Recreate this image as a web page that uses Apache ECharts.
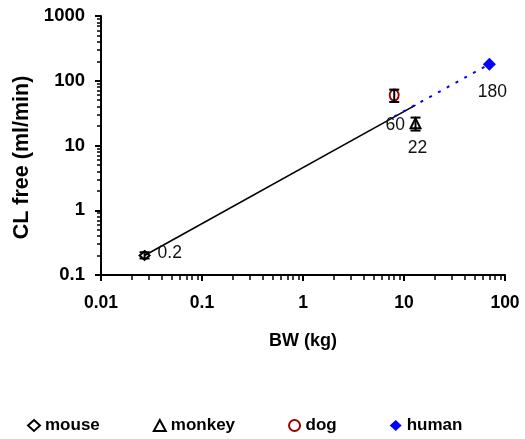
<!DOCTYPE html>
<html>
<head>
<meta charset="utf-8">
<script src="https://cdn.jsdelivr.net/npm/echarts@6/dist/echarts.min.js"></script>
<style>
  html, body { margin: 0; padding: 0; background: #fff; }
  #chart { width: 525px; height: 439px; }
</style>
</head>
<body>
<div id="chart"></div>
<script>
// Body weight (kg) vs. free clearance (ml/min) per species
const species = ['mouse', 'monkey', 'dog', 'human'];
const bodyWeight = [0.027, 13, 8, 70];
const clearance = [0.2, 22, 60, 180];
const errLow = [0.18, 17, 47, null];
const errHigh = [0.225, 27, 73, null];

// Allometric fit (solid) and its extrapolation to human (dotted)
const fitLine = [[0.027, 0.2], [13, 42]];
const extrapLine = [[8, 28], [70, 180]];

// Axis tick values
const xMinor = [0.02,0.03,0.04,0.05,0.06,0.07,0.08,0.09,0.2,0.3,0.4,0.5,0.6,0.7,0.8,0.9,2,3,4,5,6,7,8,9,20,30,40,50,60,70,80,90];
const yMinor = [0.2,0.3,0.4,0.5,0.6,0.7,0.8,0.9,2,3,4,5,6,7,8,9,20,30,40,50,60,70,80,90,200,300,400,500,600,700,800,900];

const FONT = 'Liberation Sans, Arial, sans-serif';

const styles = {
  mouse:  { symbol: 'diamond',  size: [10, 9],  fill: 'none', stroke: '#000000', w: 2 },
  monkey: { symbol: 'triangle', size: [10, 10], fill: 'none', stroke: '#000000', w: 2 },
  dog:    { symbol: 'circle',   size: [9, 11],  fill: 'none', stroke: '#990000', w: 2 },
  human:  { symbol: 'diamond',  size: [13, 13], fill: '#0000ff', stroke: '#0000ff', w: 0 }
};
const labelPlace = {
  mouse:  { position: 'right',  distance: 7, offset: [0, -2] },
  monkey: { position: 'bottom', distance: 10, offset: [2, 0] },
  dog:    { position: 'bottom', distance: 14, offset: [1, 0] },
  human:  { position: 'bottom', distance: 12, offset: [3, 0] }
};

const scatterSeries = species.map((name, i) => {
  const s = styles[name];
  const lp = labelPlace[name];
  return {
    name: name,
    type: 'scatter',
    xAxisIndex: 0, yAxisIndex: 0,
    symbol: s.symbol,
    symbolSize: s.size,
    itemStyle: { color: s.fill === 'none' ? 'rgba(255,255,255,0)' : s.fill, borderColor: s.stroke, borderWidth: s.w, opacity: 1 },
    z: 4,
    label: {
      show: true,
      position: lp.position,
      distance: lp.distance,
      offset: lp.offset,
      formatter: (p) => String(p.value[1]),
      fontFamily: FONT, fontSize: 17.5, color: '#111'
    },
    data: [[bodyWeight[i], clearance[i]]]
  };
});

const errData = [];
species.forEach((name, i) => {
  if (errLow[i] != null) errData.push([bodyWeight[i], errLow[i], errHigh[i]]);
});

const option = {
  animation: false,
  backgroundColor: '#ffffff',
  grid: { left: 101, right: 20, top: 16, bottom: 164, containLabel: false },
  legend: {
    data: species.map(n => ({
      name: n,
      icon: styles[n].symbol,
      itemStyle: { color: styles[n].fill === 'none' ? 'rgba(255,255,255,0)' : styles[n].fill, borderColor: styles[n].stroke, borderWidth: styles[n].w }
    })),
    left: 27, top: 417, padding: 0,
    itemWidth: 12, itemHeight: 11, itemGap: 53,
    selectedMode: false,
    textStyle: { fontFamily: FONT, fontSize: 17, fontWeight: 'bold', color: '#000' }
  },
  xAxis: [
    {
      type: 'log', logBase: 10, min: 0.01, max: 100,
      name: 'BW (kg)', nameLocation: 'middle', nameGap: 57,
      nameTextStyle: { fontFamily: FONT, fontSize: 18, fontWeight: 'bold', color: '#000' },
      axisLine: { show: true, onZero: false, lineStyle: { color: '#000', width: 2 } },
      axisTick: { show: true, inside: false, length: 6, lineStyle: { color: '#000', width: 2 } },
      axisLabel: { fontFamily: FONT, fontSize: 17.5, fontWeight: 'bold', color: '#000', margin: 19,
                   formatter: v => String(v) },
      splitLine: { show: false }
    },
    {
      type: 'log', logBase: 10, min: 0.01, max: 100, position: 'bottom',
      axisLine: { show: false },
      axisTick: { show: true, inside: false, length: 5, customValues: xMinor, lineStyle: { color: '#000', width: 1.5 } },
      axisLabel: { show: false },
      splitLine: { show: false }
    }
  ],
  yAxis: [
    {
      type: 'log', logBase: 10, min: 0.1, max: 1000,
      name: 'CL free (ml/min)', nameLocation: 'middle', nameGap: 67,
      nameTextStyle: { fontFamily: FONT, fontSize: 21.5, fontWeight: 'bold', color: '#000', padding: [0, 24, 0, 0] },
      axisLine: { show: true, onZero: false, lineStyle: { color: '#000', width: 2 } },
      axisTick: { show: true, inside: false, length: 6, lineStyle: { color: '#000', width: 2 } },
      axisLabel: { fontFamily: FONT, fontSize: 18.5, fontWeight: 'bold', color: '#000', margin: 16,
                   formatter: v => String(v) },
      splitLine: { show: false }
    },
    {
      type: 'log', logBase: 10, min: 0.1, max: 1000, position: 'left',
      axisLine: { show: false },
      axisTick: { show: true, inside: false, length: 4, customValues: yMinor, lineStyle: { color: '#000', width: 1.5 } },
      axisLabel: { show: false },
      splitLine: { show: false }
    }
  ],
  series: [
    {
      name: 'fit', type: 'line', xAxisIndex: 0, yAxisIndex: 0,
      data: fitLine, showSymbol: false, symbol: 'none', z: 2,
      lineStyle: { color: '#000', width: 1.6 }, silent: true
    },
    {
      name: 'extrapolation', type: 'line', xAxisIndex: 0, yAxisIndex: 0,
      data: extrapLine, showSymbol: false, symbol: 'none', z: 3,
      lineStyle: { color: '#0000ff', width: 2, type: [3, 7] }, silent: true
    },
    ...scatterSeries,
    {
      name: 'error', type: 'custom', xAxisIndex: 0, yAxisIndex: 0, z: 5, silent: true,
      data: errData,
      renderItem: function (params, api) {
        const x = api.value(0);
        const lo = api.coord([x, api.value(1)]);
        const hi = api.coord([x, api.value(2)]);
        const cap = 5;
        const st = { stroke: '#000', lineWidth: 2 };
        return {
          type: 'group',
          children: [
            { type: 'line', shape: { x1: lo[0], y1: lo[1], x2: hi[0], y2: hi[1] }, style: st },
            { type: 'line', shape: { x1: lo[0] - cap, y1: lo[1], x2: lo[0] + cap, y2: lo[1] }, style: st },
            { type: 'line', shape: { x1: hi[0] - cap, y1: hi[1], x2: hi[0] + cap, y2: hi[1] }, style: st }
          ]
        };
      }
    }
  ]
};

const chart = echarts.init(document.getElementById('chart'), null, { renderer: 'canvas' });
chart.setOption(option);
</script>
</body>
</html>
